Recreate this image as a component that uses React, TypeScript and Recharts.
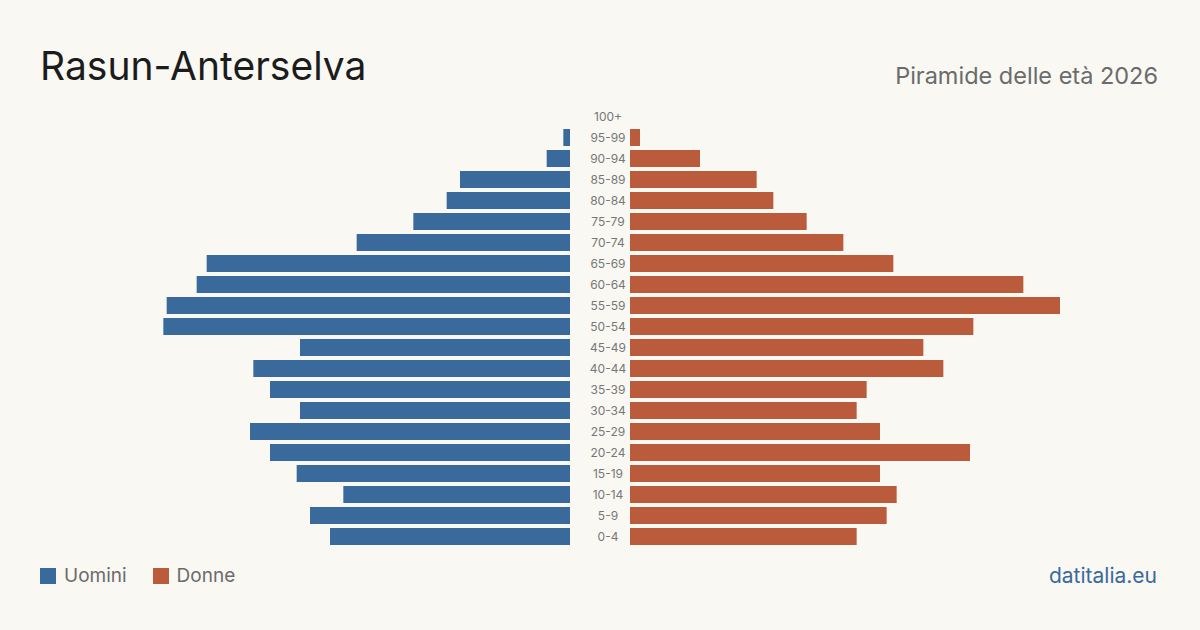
import React from "react";
import { BarChart, Bar, XAxis, YAxis } from "recharts";

const AGES = ["100+", "95-99", "90-94", "85-89", "80-84", "75-79", "70-74", "65-69", "60-64", "55-59", "50-54", "45-49", "40-44", "35-39", "30-34", "25-29", "20-24", "15-19", "10-14", "5-9", "0-4"];
const MEN = [0, 2, 7, 33, 37, 47, 64, 109, 112, 121, 122, 81, 95, 90, 81, 96, 90, 82, 68, 78, 72];
const WOMEN = [0, 3, 21, 38, 43, 53, 64, 79, 118, 129, 103, 88, 94, 71, 68, 75, 102, 75, 80, 77, 68];

const MAX = 159;
const BLUE = "#3a6a9b";
const ORANGE = "#ba5c3c";
const BG = "#f9f8f3";
const FONT = "Inter, 'Noto Sans', sans-serif";

const data = AGES.map((age, i) => ({ age, men: MEN[i], women: WOMEN[i] }));

const AgeTick = ({ x, y, payload }: { x?: number; y?: number; payload?: { value: string } }) => (
  <text x={(x ?? 0) + 30} y={(y ?? 0) + 4} textAnchor="middle" fill="#777" fontSize={12} fontFamily={FONT}>
    {payload?.value}
  </text>
);

export default function App() {
  return (
    <div style={{ position: "absolute", top: 0, left: 0, width: 1200, height: 630, background: BG, fontFamily: FONT, overflow: "hidden" }}>
      <div style={{ position: "absolute", left: 40, top: 40, fontSize: 39, color: "#1c1c1c", lineHeight: "52px" }}>Rasun-Anterselva</div>
      <div style={{ position: "absolute", right: 42, top: 61, fontSize: 23.5, color: "#6b6b6b", lineHeight: "30px" }}>Piramide delle età 2026</div>

      {/* uomini, a sinistra, con le etichette al centro */}
      <div style={{ position: "absolute", left: 40, top: 106 }}>
        <BarChart width={590} height={441} data={data} layout="vertical" margin={{ top: 0, right: 0, bottom: 0, left: 0 }} barCategoryGap={4}>
          <XAxis type="number" domain={[0, MAX]} reversed hide />
          <YAxis type="category" dataKey="age" orientation="right" width={60} axisLine={false} tickLine={false} tick={<AgeTick />} interval={0} />
          <Bar dataKey="men" fill={BLUE} barSize={17} isAnimationActive={false} />
        </BarChart>
      </div>

      {/* donne, a destra */}
      <div style={{ position: "absolute", left: 630, top: 106 }}>
        <BarChart width={530} height={441} data={data} layout="vertical" margin={{ top: 0, right: 0, bottom: 0, left: 0 }} barCategoryGap={4}>
          <XAxis type="number" domain={[0, MAX]} hide />
          <YAxis type="category" dataKey="age" hide />
          <Bar dataKey="women" fill={ORANGE} barSize={17} isAnimationActive={false} />
        </BarChart>
      </div>

      <div style={{ position: "absolute", left: 40, top: 564, display: "flex", alignItems: "center", fontSize: 19, color: "#6b6b6b", lineHeight: "24px" }}>
        <span style={{ width: 16, height: 16, background: BLUE, display: "inline-block", marginRight: 8 }} />
        <span style={{ marginRight: 26 }}>Uomini</span>
        <span style={{ width: 16, height: 16, background: ORANGE, display: "inline-block", marginRight: 8 }} />
        <span>Donne</span>
      </div>
      <div style={{ position: "absolute", right: 43, top: 562, fontSize: 21, color: BLUE, lineHeight: "28px" }}>datitalia.eu</div>
    </div>
  );
}
